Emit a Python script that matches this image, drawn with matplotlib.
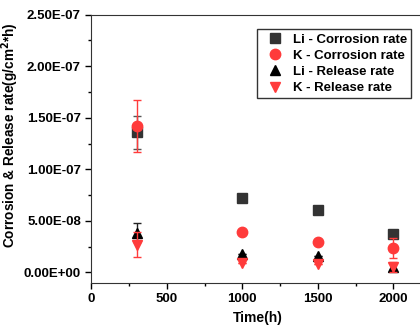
import matplotlib.pyplot as plt
from matplotlib.ticker import MultipleLocator

plt.rcParams['font.family'] = ['Liberation Sans', 'DejaVu Sans']
plt.rcParams['font.weight'] = 'bold'

# 时间点 (h)
time_h = [300, 1000, 1500, 2000]

# 各系列数值与误差
li_corr = [1.36e-7, 7.26e-8, 6.03e-8, 3.70e-8]
li_corr_err = [1.6e-8, 0, 0, 0]
k_corr = [1.42e-7, 3.95e-8, 2.98e-8, 2.36e-8]
k_corr_err = [2.5e-8, 0, 0, 1.0e-8]
li_rel = [3.85e-8, 1.75e-8, 1.55e-8, 5.0e-9]
li_rel_err = [9e-9, 0, 0, 4e-9]
k_rel = [2.7e-8, 9.0e-9, 8.5e-9, 5.5e-9]
k_rel_err = [1.2e-8, 0, 0, 5e-9]

fig = plt.figure(figsize=(4.2, 3.29), dpi=100)
ax = fig.add_axes([0.2174, 0.1407, 0.791, 0.8146])

red = '#ff3b3b'
series = [
    (li_corr, li_corr_err, 's', '#333333', '#555555', 6.5, 'Li - Corrosion rate'),
    (k_corr, k_corr_err, 'o', red, red, 7.5, 'K - Corrosion rate'),
    (li_rel, li_rel_err, '^', 'black', '#222222', 7.5, 'Li - Release rate'),
    (k_rel, k_rel_err, 'v', red, red, 7.5, 'K - Release rate'),
]
for vals, errs, mk, col, ecol, ms, lab in series:
    # 误差棒（不进图例）
    ax.errorbar(time_h, vals, yerr=errs, fmt='none', ecolor=ecol, capsize=3, elinewidth=1)
    ax.plot(time_h, vals, mk, color=col, markersize=ms, linestyle='none', label=lab)

ax.set_xlim(0, 2200)
ax.set_ylim(-1.0e-8, 2.5e-7)
ax.xaxis.set_major_locator(MultipleLocator(500))
ax.xaxis.set_minor_locator(MultipleLocator(250))
ax.yaxis.set_minor_locator(MultipleLocator(2.5e-8))
ax.set_yticks([0, 5e-8, 1e-7, 1.5e-7, 2e-7, 2.5e-7])
ax.set_yticklabels(['0.00E+00', '5.00E-08', '1.00E-07', '1.50E-07', '2.00E-07', '2.50E-07'])
ax.tick_params(which='major', direction='out', length=4, width=1, labelsize=9.5)
ax.tick_params(which='minor', direction='out', length=2.5, width=1)
for lbl in ax.get_xticklabels() + ax.get_yticklabels():
    lbl.set_fontweight('bold')
for s in ax.spines.values():
    s.set_color('#333333')

ax.set_xlabel('Time(h)', fontsize=10, fontweight='bold', labelpad=4)
ax.set_ylabel('Corrosion & Release rate(g/cm$^{\\mathbf{2}}$*h)', fontsize=9.8,
              fontweight='bold')
ax.yaxis.set_label_coords(-0.212, 0.55)

leg = ax.legend(loc='upper left', bbox_to_anchor=(0.48, 0.97), fontsize=9.5,
                frameon=True, fancybox=False, edgecolor='black', handletextpad=0.4,
                borderpad=0.3, labelspacing=0.3, handlelength=2.0)
leg.get_frame().set_linewidth(1)
for t in leg.get_texts():
    t.set_fontweight('bold')

fig.savefig('out.png', dpi=100)
